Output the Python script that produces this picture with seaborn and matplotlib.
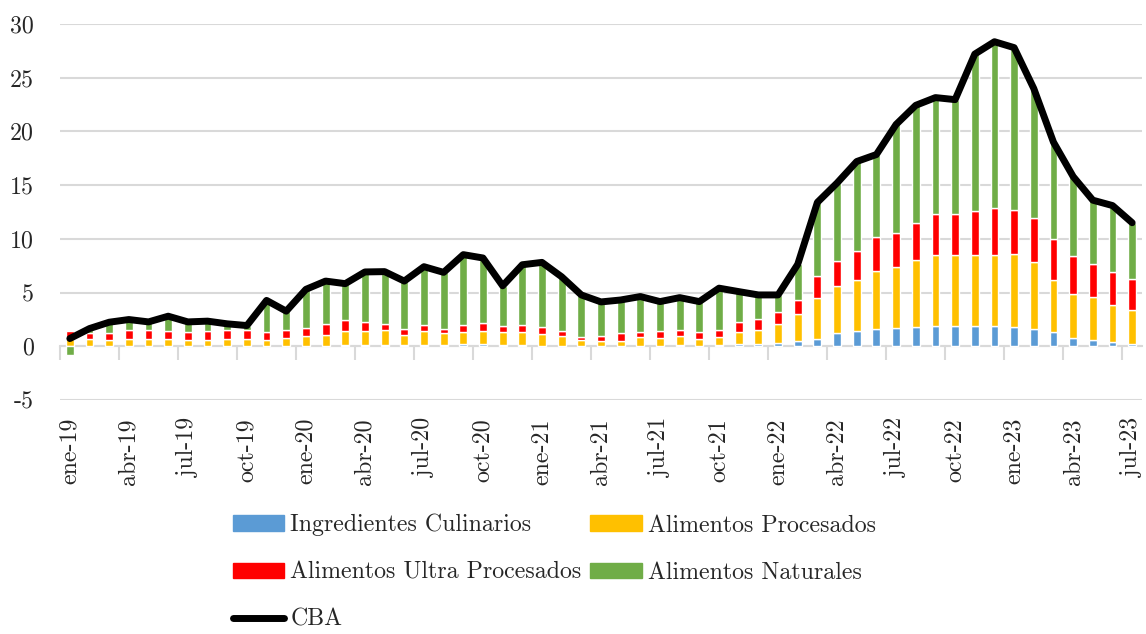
import numpy as np
import seaborn as sns
import matplotlib.pyplot as plt
from matplotlib.patches import Patch
from matplotlib.lines import Line2D

# Monthly data ene-19 .. jul-23
month_abbr = ['ene', 'feb', 'mar', 'abr', 'may', 'jun', 'jul', 'ago', 'sep', 'oct', 'nov', 'dic']
months = [f"{m}-{y}" for y in range(19, 24) for m in month_abbr][:55]

ingredientes = [0, 0, 0, 0, 0, 0, 0, 0, 0, 0, 0, 0, 0.02, 0.05, 0.1, 0.1, 0.15, 0.12, 0.15,
                0.1, 0.2, 0.19, 0.1, 0.1, 0.06, 0.06, 0.02, 0.02, 0.02, 0.03, 0.02, 0.1, 0.02, 0.1, 0.19, 0.22, 0.31,
                0.5, 0.72, 1.25, 1.43, 1.62, 1.71, 1.81, 1.9, 1.9, 1.87, 1.87, 1.84, 1.62, 1.37, 0.78, 0.59, 0.4, 0.22]
procesados = [0.72, 0.72, 0.6, 0.69, 0.69, 0.69, 0.56, 0.56, 0.69, 0.69, 0.56, 0.75, 0.9, 1.04, 1.33, 1.3, 1.34, 0.91, 1.25,
              1.1, 1.1, 1.22, 1.25, 1.25, 1.06, 0.88, 0.59, 0.47, 0.47, 0.84, 0.72, 0.88, 0.69, 0.75, 1.16, 1.34, 1.72,
              2.46, 3.77, 4.36, 4.71, 5.42, 5.67, 6.26, 6.57, 6.57, 6.63, 6.63, 6.73, 6.23, 4.8, 4.11, 3.99, 3.43, 3.14]
ultra = [0.69, 0.53, 0.65, 0.81, 0.81, 0.75, 0.81, 0.9, 0.78, 0.78, 0.78, 0.78, 0.81, 0.97, 1.03, 0.87, 0.56, 0.59, 0.56,
         0.44, 0.66, 0.75, 0.56, 0.66, 0.69, 0.44, 0.25, 0.44, 0.75, 0.47, 0.66, 0.56, 0.66, 0.69, 0.94, 1.0, 1.16,
         1.31, 2.05, 2.33, 2.74, 3.15, 3.15, 3.36, 3.8, 3.87, 4.12, 4.4, 4.14, 4.11, 3.83, 3.55, 3.11, 3.12, 2.93]
naturales = [-0.78, 0.4, 0.99, 0.99, 0.77, 1.36, 0.9, 0.88, 0.62, 0.46, 2.93, 1.74, 3.57, 4.01, 3.37, 4.65, 4.9, 4.45, 5.45,
             5.24, 6.57, 6.06, 3.72, 5.58, 6.0, 5.09, 3.92, 3.2, 3.07, 3.29, 2.76, 2.99, 2.79, 3.87, 2.8, 2.22, 1.59,
             3.36, 6.86, 7.26, 8.32, 7.66, 10.12, 11.0, 10.88, 10.62, 14.58, 15.45, 15.09, 12.03, 9.0, 7.36, 5.91, 6.15, 5.21]
cba = [0.72, 1.65, 2.24, 2.49, 2.27, 2.8, 2.27, 2.34, 2.09, 1.93, 4.27, 3.27, 5.3, 6.07, 5.83, 6.92, 6.95, 6.07, 7.41,
       6.88, 8.53, 8.22, 5.63, 7.59, 7.81, 6.47, 4.78, 4.13, 4.31, 4.63, 4.16, 4.53, 4.16, 5.41, 5.09, 4.78, 4.78,
       7.63, 13.4, 15.2, 17.2, 17.85, 20.65, 22.43, 23.15, 22.96, 27.2, 28.35, 27.8, 23.99, 19.0, 15.8, 13.6, 13.1, 11.5]

series = [
    ('Ingredientes Culinarios', ingredientes, '#5B9BD5'),
    ('Alimentos Procesados', procesados, '#FFC000'),
    ('Alimentos Ultra Procesados', ultra, '#FF0000'),
    ('Alimentos Naturales', naturales, '#70AD47'),
]

sns.set_style('white')
plt.rcParams['font.family'] = ['cmr10', 'DejaVu Serif']
plt.rcParams['axes.unicode_minus'] = False
plt.rcParams['axes.formatter.use_mathtext'] = False

grid_col = '#D9D9D9'
fsize = 17.2
fig = plt.figure(figsize=(11.46, 6.34), dpi=100)
ax = fig.add_axes([60 / 1146, 1 - 400 / 634, 1082 / 1146, 376 / 634])

x = np.arange(len(months))
pos_bottom = np.zeros(len(x))
neg_bottom = np.zeros(len(x))
for name, vals, col in series:
    v = np.array(vals, dtype=float)
    bottom = np.where(v >= 0, pos_bottom, neg_bottom)
    ax.bar(x, v, width=0.4, bottom=bottom, color=col, zorder=2)
    pos_bottom += np.where(v >= 0, v, 0)
    neg_bottom += np.where(v < 0, v, 0)

sns.lineplot(x=x, y=cba, ax=ax, color='black', lw=5, sort=False, zorder=3,
             solid_capstyle='round', solid_joinstyle='round')

ax.set_xlim(-0.5, len(x) - 0.5)
ax.set_ylim(-5, 30)
ax.set_yticks(np.arange(-5, 31, 5))
ax.set_yticklabels([str(v) for v in range(-5, 31, 5)])
ax.set_xticks(x[::3])
ax.set_xticklabels(months[::3], rotation=90)
ax.tick_params(axis='x', length=0, pad=13, labelsize=fsize)
ax.tick_params(axis='y', length=0, pad=19, labelsize=fsize)
ax.grid(axis='y', color=grid_col, lw=1.5, zorder=0)
ax.grid(axis='x', visible=False)
for s in ax.spines.values():
    s.set_visible(False)

# category-boundary ticks on the zero line
sec = ax.secondary_xaxis(0, transform=ax.transData)
sec.set_xticks(np.arange(-0.5, len(x) - 1, 3))
sec.tick_params(axis='x', length=10, width=1.5, color=grid_col, labelbottom=False)
sec.spines['bottom'].set_color(grid_col)
sec.spines['bottom'].set_linewidth(1.5)

handles = [
    Patch(color='#5B9BD5', label='Ingredientes Culinarios'),
    Patch(color='#FF0000', label='Alimentos Ultra Procesados'),
    Line2D([], [], color='black', lw=5, solid_capstyle='round', label='CBA'),
    Patch(color='#FFC000', label='Alimentos Procesados'),
    Patch(color='#70AD47', label='Alimentos Naturales'),
]
fig.legend(handles=handles, ncol=2, loc='upper left', bbox_to_anchor=(233 / 1146, 1 - 514 / 634),
           frameon=False, fontsize=fsize, handlelength=2.15, handleheight=0.62, handletextpad=0.25,
           columnspacing=0.37, labelspacing=1.05, borderpad=0, borderaxespad=0)

fig.savefig('out.png', dpi=100)
